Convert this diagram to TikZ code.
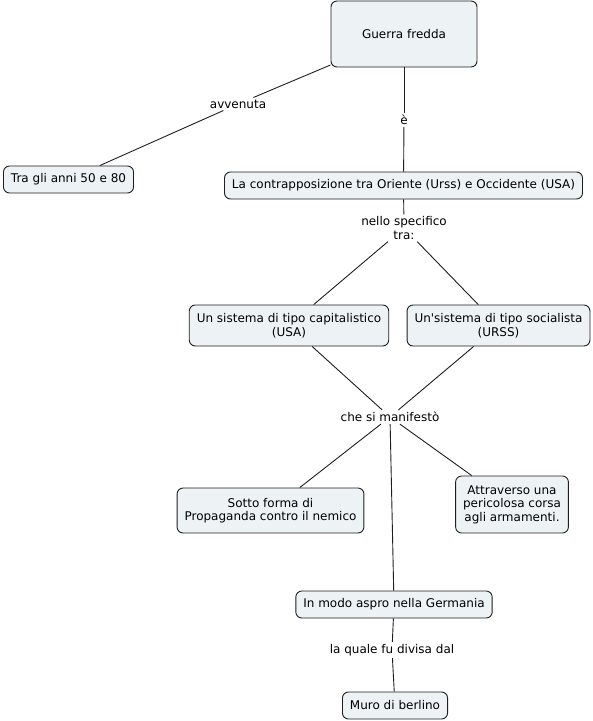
\documentclass[tikz,border=0pt]{standalone}
\usepackage{fontspec}
\setmainfont{DejaVu Sans}
\usepackage{tikz}
\usetikzlibrary{positioning,shapes,calc}
\definecolor{conceptfill}{RGB}{237,242,245}
\definecolor{conceptline}{RGB}{30,30,30}

\begin{document}
\begin{tikzpicture}[
    x=1pt,y=-1pt,
    concept/.style={draw=conceptline,line width=0.9pt,fill=conceptfill,rounded corners=6pt,align=center,inner xsep=7.5pt,inner ysep=6pt,minimum height=27pt,font=\fontsize{12}{13.5}\selectfont},
    link/.style={inner sep=2pt,align=center,font=\fontsize{12}{13.5}\selectfont},
    conn/.style={draw=conceptline,line width=0.9pt}
  ]
    \useasboundingbox (0,0) rectangle (593,721);

    % Concepts
    \node[concept,minimum width=146pt,minimum height=66pt] (gf) at (404,34) {Guerra fredda};
    \node[concept] (anni) at (68.5,179.5) {Tra gli anni 50 e 80};
    \node[concept] (contr) at (403.5,185.5) {La contrapposizione tra Oriente (Urss) e Occidente (USA)};
    \node[concept,minimum height=41pt] (usa) at (289,325.5) {Un sistema di tipo capitalistico\\(USA)};
    \node[concept,minimum height=41pt] (urss) at (498.5,325.5) {Un\textquotesingle sistema di tipo socialista\\(URSS)};
    \node[concept,minimum height=45pt] (prop) at (270.5,510.5) {Sotto forma di\\Propaganda contro il nemico};
    \node[concept,minimum height=57pt] (armi) at (512,504.5) {Attraverso una\\pericolosa corsa\\agli armamenti.};
    \node[concept] (germ) at (394,604.5) {In modo aspro nella Germania};
    \node[concept] (muro) at (395,705.5) {Muro di berlino};

    % Linking phrases
    \node[link] (avv) at (238,104) {avvenuta};
    \node[link] (e) at (404,120) {è};
    \node[link] (spec) at (404,228) {nello specifico\\tra:};
    \node[link] (manif) at (390,417) {che si manifestò};
    \node[link] (div) at (392,650) {la quale fu divisa dal};

    % Connections
    \draw[conn] (gf) -- (avv);
    \draw[conn] (avv) -- (anni);
    \draw[conn] (gf) -- (e);
    \draw[conn] (e) -- (contr);
    \draw[conn] (contr) -- (spec);
    \draw[conn] (spec) -- (usa);
    \draw[conn] (spec) -- (urss);
    \draw[conn] (usa) -- (manif);
    \draw[conn] (urss) -- (manif);
    \draw[conn] (manif) -- (prop);
    \draw[conn] (manif) -- (germ);
    \draw[conn] (manif) -- (armi);
    \draw[conn] (germ) -- (div);
    \draw[conn] (div) -- (muro);
  \end{tikzpicture}
\end{document}
